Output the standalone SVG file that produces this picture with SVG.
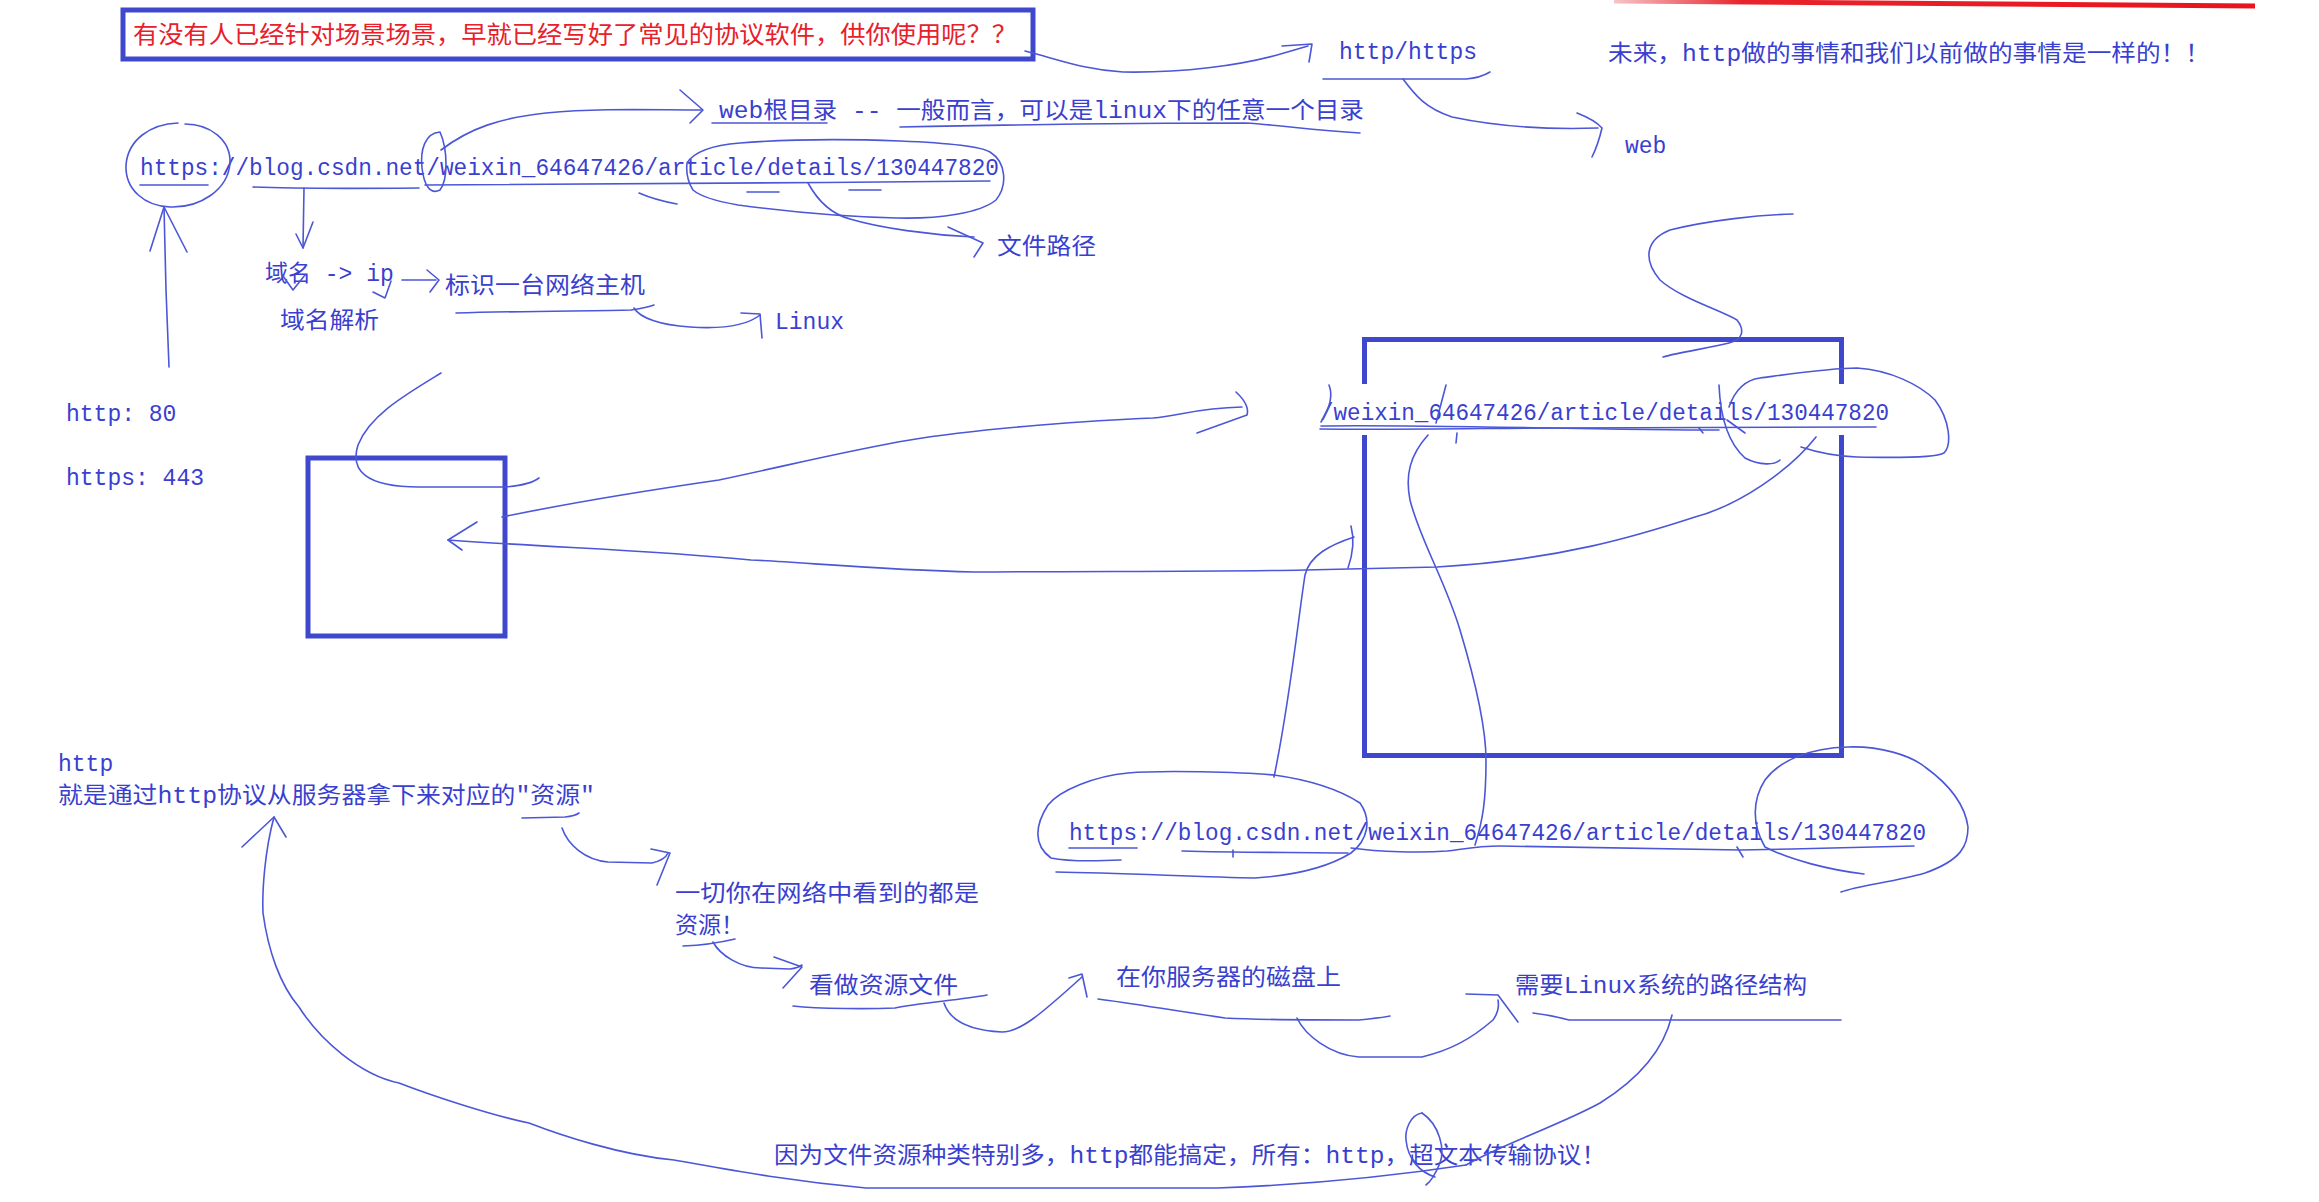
<svg xmlns="http://www.w3.org/2000/svg" width="2319" height="1202" viewBox="0 0 2319 1202">
<defs>
<linearGradient id="redfade" x1="1614" y1="0" x2="2255" y2="0" gradientUnits="userSpaceOnUse">
<stop offset="0" stop-color="#f6c6c8"/>
<stop offset="0.2" stop-color="#e8232b"/>
<stop offset="1" stop-color="#e8141e"/>
</linearGradient>
</defs>
<style>
.t{font-family:"Liberation Mono","Noto Sans CJK SC",monospace;font-size:23px;fill:#3a3fcf}
.red{font-family:"Noto Sans CJK SC",sans-serif;font-size:24px;fill:#e8202a}
.box{fill:none;stroke:#3f48cc;stroke-width:5}
.ink{fill:none;stroke:#4b57d8;stroke-width:1.6;stroke-linecap:round;stroke-linejoin:round}
</style>
<rect width="2319" height="1202" fill="#ffffff"/>

<path d="M1614,1 L2255,6" stroke="url(#redfade)" stroke-width="5" fill="none"/>

<g id="title">
<rect class="box" x="123" y="10" width="910" height="49"/>
<text class="red" x="133" y="43" textLength="884" lengthAdjust="spacingAndGlyphs">有没有人已经针对场景场景，早就已经写好了常见的协议软件，供你使用呢？？</text>
</g>

<g id="n-http-https"><text class="t" x="1339" y="59">http/https</text></g>
<g id="n-future"><text class="t" x="1608" y="61" textLength="602" lengthAdjust="spacingAndGlyphs">未来，http做的事情和我们以前做的事情是一样的！！</text></g>
<g id="n-web"><text class="t" x="1625" y="153">web</text></g>
<g id="n-webroot"><text class="t" x="719" y="118" textLength="645" lengthAdjust="spacingAndGlyphs">web根目录 -- 一般而言，可以是linux下的任意一个目录</text></g>
<g id="n-url1"><text class="t" x="140" y="175" textLength="859" lengthAdjust="spacingAndGlyphs">https://blog.csdn.net/weixin_64647426/article/details/130447820</text></g>
<g id="n-filepath"><text class="t" x="997" y="254" textLength="99" lengthAdjust="spacingAndGlyphs">文件路径</text></g>
<g id="n-domain-ip"><text class="t" x="265" y="281">域名 -&gt; ip</text></g>
<g id="n-host"><text class="t" x="445" y="293" textLength="200" lengthAdjust="spacingAndGlyphs">标识一台网络主机</text></g>
<g id="n-dns"><text class="t" x="280" y="328" textLength="99" lengthAdjust="spacingAndGlyphs">域名解析</text></g>
<g id="n-linux"><text class="t" x="775" y="329">Linux</text></g>
<g id="n-port80"><text class="t" x="66" y="421">http: 80</text></g>
<g id="n-port443"><text class="t" x="66" y="485">https: 443</text></g>

<g id="n-client"><rect class="box" x="308" y="458" width="197" height="178"/></g>

<g id="n-server">
<path class="box" d="M1364.5,384 L1364.5,339.5 L1841.5,339.5 L1841.5,384 M1364.5,435 L1364.5,755.5 L1841.5,755.5 L1841.5,435"/>
<text class="t" x="1320" y="420" textLength="569" lengthAdjust="spacingAndGlyphs">/weixin_64647426/article/details/130447820</text>
</g>

<g id="n-url2"><text class="t" x="1069" y="840" textLength="857" lengthAdjust="spacingAndGlyphs">https://blog.csdn.net/weixin_64647426/article/details/130447820</text></g>

<g id="n-http-def">
<text class="t" x="58" y="771">http</text>
<text class="t" x="58" y="803" textLength="537" lengthAdjust="spacingAndGlyphs">就是通过http协议从服务器拿下来对应的"资源"</text>
</g>
<g id="n-resource">
<text class="t" x="675" y="901" textLength="304" lengthAdjust="spacingAndGlyphs">一切你在网络中看到的都是</text>
<text class="t" x="675" y="933">资源！</text>
</g>
<g id="n-resfile"><text class="t" x="809" y="993" textLength="149" lengthAdjust="spacingAndGlyphs">看做资源文件</text></g>
<g id="n-disk"><text class="t" x="1116" y="985" textLength="225" lengthAdjust="spacingAndGlyphs">在你服务器的磁盘上</text></g>
<g id="n-linuxpath"><text class="t" x="1515" y="993" textLength="292" lengthAdjust="spacingAndGlyphs">需要Linux系统的路径结构</text></g>
<g id="n-hypertext"><text class="t" x="774" y="1163" textLength="832" lengthAdjust="spacingAndGlyphs">因为文件资源种类特别多，http都能搞定，所有：http，超文本传输协议！</text></g>

<g id="connectors" class="ink">
<!-- title to http/https -->
<path d="M1025,51 C1060,60 1085,70 1123,72 C1180,73 1240,66 1284,53 L1308,46"/>
<path d="M1282,46 L1312,44 L1309,62"/>
<!-- http/https underline and to web -->
<path d="M1323,79 L1466,79 Q1480,78 1490,72"/>
<path d="M1403,79 C1415,95 1425,108 1452,117 C1490,125 1540,130 1598,128"/>
<path d="M1577,113 Q1595,120 1602,128 Q1598,145 1592,157"/>
<!-- slash oval to web root -->
<path d="M440,132 C425,133 420,150 422,168 C424,185 430,195 440,190 C448,180 448,150 440,132"/>
<path d="M441,150 C470,128 500,118 546,113 C600,108 650,110 702,110"/>
<path d="M680,90 L703,110 L690,123"/>
<path d="M712,123 L827,123"/>
<path d="M900,127 C1000,125 1150,123 1245,123 C1280,125 1310,130 1360,133"/>
<!-- url1 annotations -->
<path d="M178,123 C150,124 128,140 126,165 C125,190 145,206 170,207 C200,208 228,190 230,163 C231,140 210,124 185,124"/>
<path d="M169,367 L166,290 L164,207"/>
<path d="M150,251 L164,207 L187,252"/>
<path d="M140,185 L208,185"/>
<path d="M253,187 Q300,189 419,188"/>
<path d="M425,185 C600,184 800,183 990,181"/>
<path d="M304,188 L303,248"/>
<path d="M296,234 L303,248 L313,222"/>
<path d="M687,163 C695,150 715,145 740,143 C790,139 850,139 900,141 C950,143 980,146 990,152 C1006,162 1008,185 996,200 C980,213 940,219 897,218 C850,217 790,212 738,205 C715,201 700,196 693,190 C688,182 686,172 687,163"/>
<path d="M639,193 Q655,200 677,204"/>
<path d="M747,192 L779,192 M849,190 L881,190"/>
<path d="M808,183 C820,205 835,215 850,219 C880,228 930,235 974,237"/>
<path d="M948,227 L983,243 L974,257"/>
<!-- domain / ip -->
<path d="M283,276 L293,290 L305,275"/>
<path d="M373,292 L385,298 L391,281"/>
<path d="M402,280 L436,280"/>
<path d="M427,270 L439,280 L430,292"/>
<path d="M456,313 C520,311 600,311 631,310 Q645,308 654,305"/>
<path d="M634,308 C640,318 660,325 690,327 C720,329 745,327 760,315"/>
<path d="M741,313 L760,314 L762,338"/>
<!-- curve into client box -->
<path d="M441,373 C405,395 370,415 358,445 C350,470 365,487 419,487 L505,487 Q530,485 539,478"/>
<!-- request: client to server path -->
<path d="M502,517 C560,505 650,490 719,480 C790,465 850,450 910,440 C980,428 1100,420 1153,418 C1180,416 1195,408 1242,407"/>
<path d="M1236,392 Q1250,405 1247,415 L1197,433"/>
<!-- response: server back to client -->
<path d="M1816,437 C1790,470 1740,505 1695,517 C1640,535 1560,560 1437,567 L1305,570 C1200,572 1100,571 974,572 C880,570 800,562 751,560 C650,550 560,548 448,540"/>
<path d="M477,522 L448,540 L462,550"/>
<!-- server path annotations -->
<path d="M1320,429 C1400,430 1500,428 1556,428 C1700,428 1800,427 1876,427"/>
<path d="M1321,426 C1400,424 1600,430 1719,430"/>
<path d="M1329,385 Q1335,400 1321,422"/>
<path d="M1446,385 L1436,423"/>
<path d="M1699,428 L1703,433"/>
<path d="M1457,433 L1456,443"/>
<path d="M1719,385 C1720,410 1725,440 1745,458 C1760,466 1775,465 1780,460"/>
<path d="M1729,407 C1735,390 1745,380 1760,378 C1790,374 1830,368 1857,368 C1890,370 1920,385 1935,400 C1950,420 1952,445 1944,453 C1935,458 1900,458 1857,457 C1830,456 1810,450 1801,447"/>
<path d="M1727,420 L1745,433"/>
<path d="M1793,214 C1760,215 1710,220 1670,230 C1645,240 1643,260 1660,280 C1680,298 1720,310 1737,320 C1745,330 1743,340 1729,343 C1710,348 1680,352 1663,357"/>
<path d="M1351,526 Q1356,545 1348,568"/>
<path d="M1354,537 C1330,545 1310,555 1305,575 C1298,620 1290,700 1274,777"/>
<path d="M1428,435 C1410,455 1405,475 1410,500 C1420,540 1445,580 1460,630 C1475,680 1486,730 1486,760 C1486,800 1483,820 1475,845"/>
<!-- url2 annotations -->
<path d="M1274,775 C1240,772 1160,770 1128,773 C1095,776 1060,790 1048,805 C1035,825 1033,845 1051,858 C1070,862 1100,861 1121,860"/>
<path d="M1274,775 C1310,780 1340,790 1360,803 C1372,820 1368,840 1351,853 C1330,866 1300,875 1255,878 C1200,877 1120,873 1056,872"/>
<path d="M1069,848 L1137,848"/>
<path d="M1182,851 C1250,853 1300,852 1348,853"/>
<path d="M1233,850 L1233,857"/>
<path d="M1351,848 C1380,852 1420,853 1447,851 C1470,848 1480,846 1500,846 C1600,847 1700,850 1740,850 C1800,849 1870,847 1914,846"/>
<path d="M1737,847 L1743,857"/>
<path d="M1864,874 C1830,870 1790,860 1765,847 C1752,825 1752,800 1765,780 C1780,760 1810,748 1848,747 C1880,746 1910,755 1925,767 C1950,785 1965,805 1968,827 C1968,845 1962,860 1925,873 C1895,882 1860,885 1841,892"/>
<!-- resource chain -->
<path d="M522,818 L565,817 Q575,816 579,813"/>
<path d="M562,828 C568,845 585,860 608,862 L652,863 Q665,860 668,853"/>
<path d="M651,849 L670,853 L657,885"/>
<path d="M683,946 Q710,945 735,939"/>
<path d="M713,942 C720,955 740,968 761,968 L790,969 Q798,968 802,965"/>
<path d="M774,957 L802,967 L783,988"/>
<path d="M793,1006 C820,1009 870,1009 895,1008 C920,1003 960,1000 987,995"/>
<path d="M944,1003 C948,1015 960,1030 1002,1032 C1020,1032 1040,1015 1082,977"/>
<path d="M1069,978 L1082,974 L1087,997"/>
<path d="M1098,999 C1130,1003 1170,1010 1225,1018 C1260,1020 1330,1020 1359,1020 Q1380,1018 1390,1016"/>
<path d="M1297,1018 C1305,1035 1330,1055 1359,1057 L1422,1057 C1450,1050 1470,1040 1493,1020 Q1500,1010 1498,1000"/>
<path d="M1466,994 L1498,995 L1518,1022"/>
<path d="M1533,1013 Q1550,1015 1569,1020 L1841,1020"/>
<path d="M1672,1015 C1665,1045 1645,1075 1600,1103 C1560,1125 1500,1145 1466,1165"/>
<path d="M1466,1165 C1380,1178 1300,1185 1217,1188 L866,1188 C780,1180 720,1168 674,1160 C620,1155 560,1135 529,1123 C490,1115 430,1095 399,1083 C360,1075 320,1040 299,1007 C280,985 268,950 263,913 C262,890 265,850 274,817"/>
<path d="M242,847 L274,817 L286,837"/>
<path d="M1422,1113 C1440,1125 1445,1150 1440,1163 Q1433,1180 1426,1185"/>
<path d="M1422,1113 C1410,1115 1405,1130 1406,1140 C1408,1160 1420,1172 1435,1177"/>
</g>
</svg>
